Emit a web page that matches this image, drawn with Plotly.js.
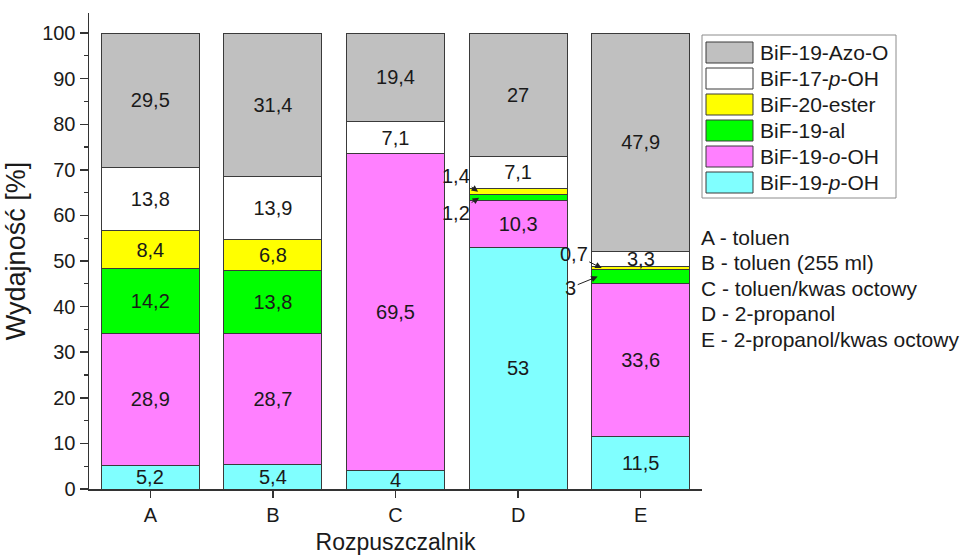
<!DOCTYPE html>
<html>
<head>
<meta charset="utf-8">
<script src="https://cdn.plot.ly/plotly-3.0.1.min.js"></script>
<style>html,body{margin:0;padding:0;background:#fff;}#chart{width:961px;height:555px;}</style>
</head>
<body>
<div id="chart"></div>
<script>
// ---- data ----
const categories = ['A', 'B', 'C', 'D', 'E'];
const seriesNames = ['BiF-19-<i>p</i>-OH', 'BiF-19-<i>o</i>-OH', 'BiF-19-al', 'BiF-20-ester', 'BiF-17-<i>p</i>-OH', 'BiF-19-Azo-O'];
const pOH   = [5.2, 5.4, 4, 53, 11.5];
const oOH   = [28.9, 28.7, 69.5, 10.3, 33.6];
const al    = [14.2, 13.8, 0, 1.2, 3];
const ester = [8.4, 6.8, 0, 1.4, 0.7];
const p17   = [13.8, 13.9, 7.1, 7.1, 3.3];
const azo   = [29.5, 31.4, 19.4, 27, 47.9];
const solventNotes = ['A - toluen', 'B - toluen (255 ml)', 'C - toluen/kwas octowy', 'D - 2-propanol', 'E - 2-propanol/kwas octowy'];
const yTicks = [0, 10, 20, 30, 40, 50, 60, 70, 80, 90, 100];

// ---- styling ----
const colors = ['#80ffff', '#ff80ff', '#00ff00', '#ffff00', '#ffffff', '#c0c0c0'];
const series = [pOH, oOH, al, ester, p17, azo];
const FONT = 'Liberation Sans, Arial, sans-serif';
const TXT = '#1a1a1a';
const LBL = 20;
const INSIDE_MIN = 6;
const fmt = v => String(v).replace('.', ',');

const traces = series.map((vals, i) => ({
  type: 'bar',
  name: seriesNames[i],
  x: categories,
  y: vals,
  marker: {color: colors[i], line: {color: '#3a3a3a', width: 1}},
  text: vals.map(v => v >= INSIDE_MIN ? fmt(v) : ''),
  textposition: 'inside',
  insidetextanchor: 'middle',
  textangle: 0,
  textfont: {family: FONT, size: LBL, color: TXT},
  showlegend: false,
  hoverinfo: 'skip'
}));

// plot area in px
const L = 89, R = 702, T = 13, B = 489;
const px2x = p => (p - L) / (R - L);
const px2y = p => (B - p) / (B - T);

const annotations = [];
const shapes = [];

function segCenter(si, ci) {
  let base = 0;
  for (let k = 0; k < si; k++) base += series[k][ci];
  return base + series[si][ci] / 2;
}
// callouts with arrows (keyed by series index / category index)
const callouts = [
  {si: 3, ci: 3, xshift: -40, ax: -22, ay: -16},
  {si: 2, ci: 3, xshift: -39, ax: -23, ay: 15},
  {si: 3, ci: 4, xshift: -39, ax: -28, ay: -14},
  {si: 2, ci: 4, xshift: -43, ax: -27, ay: 11}
];
const isCallout = (si, ci) => callouts.some(c => c.si === si && c.ci === ci);

// small segment labels, centred without arrows
series.forEach((vals, si) => vals.forEach((v, ci) => {
  if (v > 0 && v < INSIDE_MIN && !isCallout(si, ci)) {
    annotations.push({x: categories[ci], y: segCenter(si, ci), xref: 'x', yref: 'y', text: fmt(v),
      showarrow: false, font: {family: FONT, size: LBL, color: TXT}});
  }
}));
callouts.forEach(c => {
  annotations.push({x: categories[c.ci], y: segCenter(c.si, c.ci), xref: 'x', yref: 'y', text: fmt(series[c.si][c.ci]),
    showarrow: true, arrowhead: 2, arrowsize: 1.3, arrowwidth: 1, arrowcolor: '#222', standoff: 0, startstandoff: 0,
    xshift: c.xshift, ax: c.ax, ay: c.ay, font: {family: FONT, size: LBL, color: TXT}});
});

// custom legend (top item = last series)
shapes.push({type: 'rect', xref: 'paper', yref: 'paper', x0: px2x(702), x1: px2x(896), y0: px2y(35), y1: px2y(198),
  line: {color: '#8c8c8c', width: 1}, fillcolor: 'rgba(0,0,0,0)'});
for (let r = 0; r < series.length; r++) {
  const si = series.length - 1 - r;
  const cy = 52.5 + 26 * r;
  shapes.push({type: 'rect', xref: 'paper', yref: 'paper', x0: px2x(706), x1: px2x(753), y0: px2y(cy - 10.5), y1: px2y(cy + 10.5),
    line: {color: '#3a3a3a', width: 1}, fillcolor: colors[si]});
  annotations.push({xref: 'paper', yref: 'paper', x: px2x(758), y: px2y(cy), xanchor: 'left', yanchor: 'middle',
    text: seriesNames[si], showarrow: false, font: {family: FONT, size: 21, color: TXT}});
}
// solvent notes
solventNotes.forEach((t, i) => {
  annotations.push({xref: 'paper', yref: 'paper', x: px2x(699), y: px2y(237 + 25.5 * i), xanchor: 'left', yanchor: 'middle',
    text: t, showarrow: false, font: {family: FONT, size: 21, color: TXT}});
});

const layout = {
  width: 961, height: 555,
  margin: {l: L, r: 961 - R, t: T, b: 555 - B, pad: 0},
  paper_bgcolor: '#ffffff', plot_bgcolor: '#ffffff',
  barmode: 'stack', bargap: 0.2,
  showlegend: false,
  font: {family: FONT, size: 20, color: TXT},
  xaxis: {
    type: 'category', range: [-0.5, 4.5],
    showline: true, linecolor: '#333', linewidth: 1.5,
    ticks: 'outside', ticklen: 7, tickwidth: 1.5, tickcolor: '#333',
    showgrid: false, zeroline: false,
    tickfont: {family: FONT, size: 20, color: TXT},
    title: {text: 'Rozpuszczalnik', font: {family: FONT, size: 23, color: TXT}, standoff: 10}
  },
  yaxis: {
    range: [0, 104.4],
    tickvals: yTicks, ticktext: yTicks.map(String),
    showline: true, linecolor: '#333', linewidth: 1.5,
    ticks: 'outside', ticklen: 8, tickwidth: 1.5, tickcolor: '#333',
    minor: {tickvals: [5, 15, 25, 35, 45, 55, 65, 75, 85, 95], ticks: 'outside', ticklen: 4, tickwidth: 1.2, tickcolor: '#333', showgrid: false},
    showgrid: false, zeroline: false,
    tickfont: {family: FONT, size: 20, color: TXT},
    title: {text: 'Wydajność [%]', font: {family: FONT, size: 27, color: TXT}, standoff: 8}
  },
  shapes: shapes,
  annotations: annotations
};

Plotly.newPlot('chart', traces, layout, {displayModeBar: false, staticPlot: true});
</script>
</body>
</html>
